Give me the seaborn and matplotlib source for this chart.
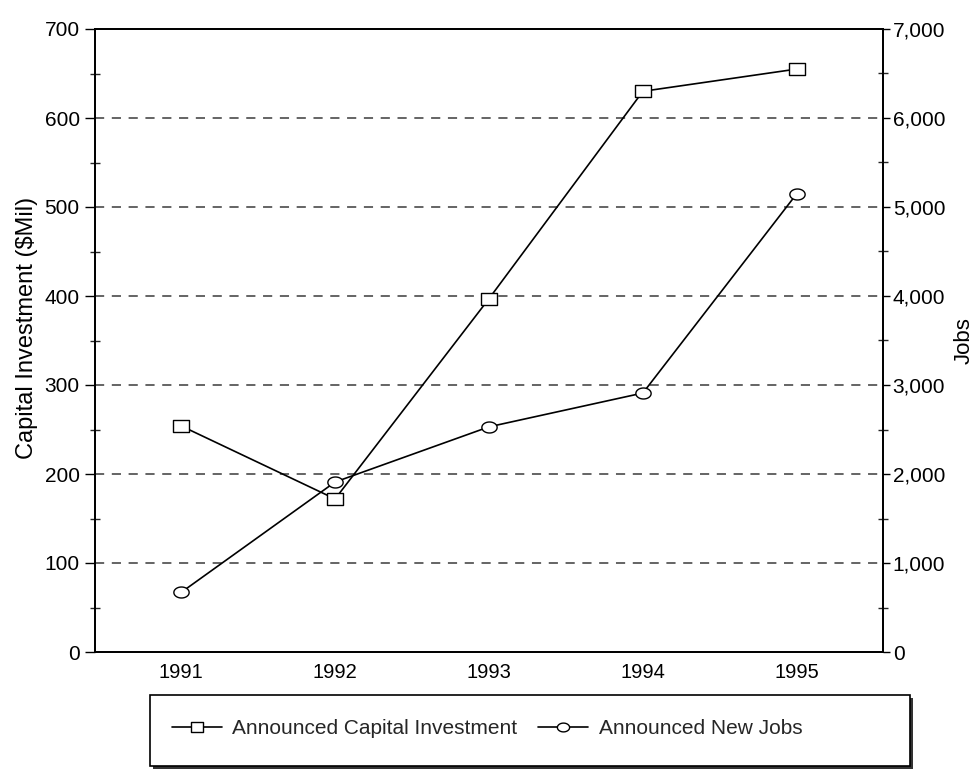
import matplotlib
matplotlib.use("Agg")
import matplotlib.pyplot as plt
from matplotlib.ticker import MultipleLocator, FuncFormatter
from matplotlib.patches import Rectangle
from matplotlib.path import Path
import numpy as np
import pandas as pd
import seaborn as sns

years = [1991, 1992, 1993, 1994, 1995]
capital_investment = [254, 172, 397, 630, 655]   # $ millions
new_jobs = [670, 1910, 2530, 2910, 5150]
series_names = ["Announced Capital Investment", "Announced New Jobs"]

sns.set_theme(style="white")
plt.rcParams["font.family"] = ["Liberation Sans", "DejaVu Sans"]
plt.rcParams["axes.edgecolor"] = "black"

df_cap = pd.DataFrame({"year": years, "value": capital_investment})
df_jobs = pd.DataFrame({"year": years, "value": new_jobs})

# flattened circle and slightly wide square markers
theta = np.linspace(0, 2 * np.pi, 60)
ellipse = Path(np.column_stack([np.cos(theta), 0.72 * np.sin(theta)]), closed=True)
rect = Path([(-1, -0.8), (1, -0.8), (1, 0.8), (-1, 0.8), (-1, -0.8)], closed=True)

fig = plt.figure(figsize=(9.8, 7.72), dpi=100)
ax = fig.add_axes([95 / 980, 1 - 652 / 772, (883 - 95) / 980, (652 - 29) / 772])
ax2 = ax.twinx()

line_kw = dict(color="black", linewidth=1.2, markerfacecolor="white",
               markeredgecolor="black", markeredgewidth=1.0)
sns.lineplot(data=df_cap, x="year", y="value", ax=ax, marker=rect,
             markersize=11.5, label=series_names[0], legend=False, **line_kw)
sns.lineplot(data=df_jobs, x="year", y="value", ax=ax2, marker=ellipse,
             markersize=11, label=series_names[1], legend=False, **line_kw)

ax.set_xlim(1990.44, 1995.56)
ax.set_ylim(0, 700)
ax2.set_ylim(0, 7000)

ax.set_xticks(years)
ax.set_xticklabels([str(y) for y in years])
ax.yaxis.set_major_locator(MultipleLocator(100))
ax.yaxis.set_minor_locator(MultipleLocator(50))
ax2.yaxis.set_major_locator(MultipleLocator(1000))
ax2.yaxis.set_minor_locator(MultipleLocator(500))
ax2.yaxis.set_major_formatter(FuncFormatter(lambda v, p: f"{int(v):,}"))

# dashed reference lines at interior hundreds
for v in range(100, 700, 100):
    ax.axhline(v, color="#3a3a3a", linestyle=(0, (6, 5)), linewidth=1.1, zorder=0)

ax.tick_params(axis="x", direction="inout", length=12, width=1, labelsize=14.5, pad=2, colors="black")
ax.tick_params(axis="y", which="major", direction="out", length=7, width=1, labelsize=15, pad=4, colors="black")
ax.tick_params(axis="y", which="minor", direction="inout", length=7, width=1, left=True)
ax2.tick_params(axis="y", which="major", direction="out", length=5, width=1, labelsize=15, pad=2, colors="black")
ax2.tick_params(axis="y", which="minor", direction="inout", length=7, width=1, right=True)

for a in (ax, ax2):
    for s in a.spines.values():
        s.set_linewidth(1.3)
        s.set_color("black")

ax.set_xlabel("")
ax.set_ylabel("Capital Investment ($Mil)", fontsize=17, color="black", labelpad=7)
ax.yaxis.set_label_coords(-0.072, 0.52)
ax2.set_ylabel("Jobs", fontsize=16, color="black", labelpad=6)

h1, l1 = ax.get_legend_handles_labels()
h2, l2 = ax2.get_legend_handles_labels()
fig.legend(h1 + h2, l1 + l2, loc="center left", bbox_to_anchor=(172 / 980, 1 - 729 / 772),
           ncol=2, frameon=False, fontsize=15, handlelength=2.4, markerscale=0.8,
           columnspacing=1.0, handletextpad=0.5, borderpad=0, borderaxespad=0)

# legend box with drop shadow
bx0, bx1, by0, by1 = 150 / 980, 910 / 980, 1 - 766 / 772, 1 - 695 / 772
fig.patches.append(Rectangle((bx0 + 3 / 980, by0 - 3 / 772), bx1 - bx0, by1 - by0,
                             transform=fig.transFigure, facecolor="#333333",
                             edgecolor="none", zorder=0))
fig.patches.append(Rectangle((bx0, by0), bx1 - bx0, by1 - by0,
                             transform=fig.transFigure, facecolor="white",
                             edgecolor="black", linewidth=1.2, zorder=1))

fig.savefig("out.png", dpi=100, facecolor="white")
